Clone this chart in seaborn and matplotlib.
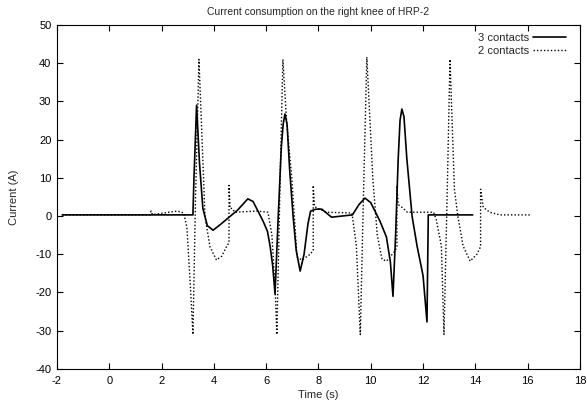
import numpy as np
import pandas as pd
import matplotlib
matplotlib.use("Agg")
import matplotlib.pyplot as plt
import seaborn as sns

# current on the right knee of HRP-2
time_3c = [-1.8, 3.2, 3.24, 3.34, 3.45, 3.58, 3.75, 3.97, 4.2, 4.6, 4.9, 5.3, 5.5,
           5.88, 6.05, 6.15, 6.25, 6.34, 6.45, 6.58, 6.65, 6.72, 6.8, 6.9, 7.03,
           7.15, 7.3, 7.45, 7.6, 7.7, 7.9, 8.13, 8.5, 9.3, 9.55, 9.78, 10.0, 10.35,
           10.6, 10.75, 10.85, 10.95, 11.05, 11.12, 11.19, 11.27, 11.38, 11.58,
           11.77, 12.0, 12.15, 12.2, 13.9]
current_3c = [0.3, 0.3, 10, 29, 14, 2, -2.5, -3.7, -2.5, -0.2, 1.5, 4.5, 3.8,
              -1.3, -4, -7.8, -13, -20.4, -2, 18, 24, 26.7, 24, 12, 0,
              -9, -14.4, -10, -2, 1.3, 1.8, 1.8, -0.3, 0.3, 3, 4.7, 3.5, -1.3,
              -5.5, -12, -21, -5, 15, 25, 28, 26, 15, 0,
              -7.8, -15.6, -27.7, 0.3, 0.3]

time_2c = [-1.8, 1.55, 1.6, 1.65, 2.0, 2.6, 2.85, 2.97, 3.1, 3.2, 3.3, 3.43, 3.55,
           3.66, 3.85, 4.1, 4.3, 4.5, 4.58, 4.58, 4.62, 4.7, 4.8, 5.65, 6.07, 6.22,
           6.35, 6.41, 6.52, 6.64, 6.78, 6.98, 7.18, 7.37, 7.68, 7.8, 7.8, 7.85,
           7.98, 8.3, 9.28, 9.45, 9.6, 9.72, 9.85, 9.97, 10.08, 10.25, 10.43, 10.6,
           10.92, 11.0, 11.0, 11.05, 11.19, 11.4, 12.4, 12.5, 12.7, 12.8, 12.92,
           13.03, 13.2, 13.33, 13.53, 13.8, 14.06, 14.2, 14.2, 14.3, 14.55, 14.94,
           16.16]
current_2c = [0.3, 0.3, 1.3, 0.4, 0.7, 1.3, 0.8, -3, -18, -31, 5, 41, 20,
              0, -8, -11.5, -10.5, -7.8, -7, 8, 2, 2, 1, 1.3, 1, -5,
              -20, -31, 5, 41, 25, 10, -10.7, -11.5, -10, -9, 8, 2.5,
              2, 1, 0.8, -7.8, -31, 5, 41.6, 25, 9.7, -5, -11.3, -11.8,
              -9.2, -8, 7.9, 3, 2.3, 1, 1, -0.8, -7.8, -31, 5,
              41, 7, 0, -7.8, -11.8, -10, -8, 7, 2.3, 1, 0.3,
              0.3]

sns.set_style("white")
plt.rcParams['font.family'] = ['Liberation Sans', 'DejaVu Sans']
plt.rcParams['axes.unicode_minus'] = False
plt.rcParams['xtick.direction'] = 'in'
plt.rcParams['ytick.direction'] = 'in'

fig = plt.figure(figsize=(5.87, 4.09), dpi=100)
ax = fig.add_axes([0.097, 0.098, 0.891, 0.841])

df3 = pd.DataFrame({"t": time_3c, "i": current_3c})
df2 = pd.DataFrame({"t": time_2c, "i": current_2c})

sns.lineplot(data=df3, x="t", y="i", ax=ax, sort=False, estimator=None,
             color="black", linewidth=1.2, label="3 contacts")
sns.lineplot(data=df2, x="t", y="i", ax=ax, sort=False, estimator=None,
             color="black", linewidth=1.0, linestyle=(0, (1, 1.5)),
             label="2 contacts")

ax.set_xlim(-2, 18)
ax.set_ylim(-40, 50)
ax.set_xticks(np.arange(-2, 19, 2))
ax.set_yticks(np.arange(-40, 51, 10))
ax.tick_params(axis="both", which="both", labelsize=8, length=4, width=0.8,
               bottom=True, left=True, top=True, right=True,
               color="black", labelcolor="black", pad=4)
ax.tick_params(axis="x", pad=5)
for s in ax.spines.values():
    s.set_color("black")
    s.set_linewidth(0.8)

ax.set_title("Current consumption on the right knee of HRP-2", fontsize=7.5, pad=7)
ax.set_xlabel("Time (s)", fontsize=8, labelpad=3)
ax.set_ylabel("Current (A)", fontsize=8, labelpad=12)

ax.legend(loc="upper right", bbox_to_anchor=(0.982, 0.99), borderaxespad=0,
          frameon=False, markerfirst=False, fontsize=8, handlelength=3.0,
          handletextpad=0.3, labelspacing=0.25)

plt.savefig("out.png", dpi=100)
plt.close()
